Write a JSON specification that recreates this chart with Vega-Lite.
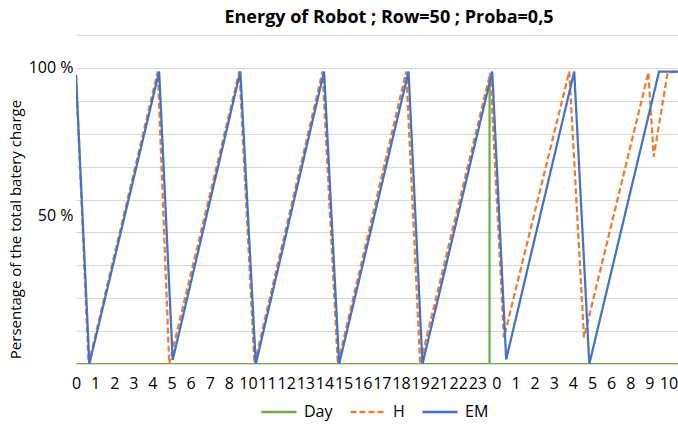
{
  "$schema": "https://vega.github.io/schema/vega-lite/v6.json",
  "autosize": {"type": "none"},
  "width": 602,
  "height": 329,
  "padding": {"left": 76, "top": 35, "right": 0, "bottom": 63},
  "background": "white",
  "config": {"view": {"stroke": null}, "font": "Open Sans"},
  "title": {"text": "Energy of Robot ; Row=50 ; Proba=0,5", "font": "Open Sans", "fontSize": 18, "fontWeight": "bold", "color": "#000000", "anchor": "middle", "dx": 12, "offset": 0},
  "data": {"values": [
    {"s": "Day", "i": 0, "x": 0, "y": 0},
    {"s": "Day", "i": 1, "x": 21.64, "y": 0},
    {"s": "Day", "i": 2, "x": 21.64, "y": 86},
    {"s": "Day", "i": 3, "x": 21.64, "y": 0},
    {"s": "Day", "i": 4, "x": 31.5, "y": 0},
    {"s": "H", "i": 0, "x": 0, "y": 87.8},
    {"s": "H", "i": 1, "x": 0.66, "y": 0},
    {"s": "H", "i": 2, "x": 4.28, "y": 88.9},
    {"s": "H", "i": 3, "x": 4.88, "y": 0},
    {"s": "H", "i": 4, "x": 8.55, "y": 88.9},
    {"s": "H", "i": 5, "x": 9.34, "y": 0},
    {"s": "H", "i": 6, "x": 12.9, "y": 88.9},
    {"s": "H", "i": 7, "x": 13.7, "y": 0},
    {"s": "H", "i": 8, "x": 17.28, "y": 88.9},
    {"s": "H", "i": 9, "x": 18.01, "y": 0},
    {"s": "H", "i": 10, "x": 21.68, "y": 88.5},
    {"s": "H", "i": 11, "x": 22.39, "y": 8.0},
    {"s": "H", "i": 12, "x": 25.81, "y": 88.9},
    {"s": "H", "i": 13, "x": 26.58, "y": 8.1},
    {"s": "H", "i": 14, "x": 29.95, "y": 88.6},
    {"s": "H", "i": 15, "x": 30.23, "y": 63},
    {"s": "H", "i": 16, "x": 30.96, "y": 88.6},
    {"s": "H", "i": 17, "x": 31.5, "y": 88.9},
    {"s": "EM", "i": 0, "x": 0, "y": 87.8},
    {"s": "EM", "i": 1, "x": 0.7, "y": 0},
    {"s": "EM", "i": 2, "x": 4.35, "y": 88.9},
    {"s": "EM", "i": 3, "x": 5.06, "y": 1.2},
    {"s": "EM", "i": 4, "x": 8.6, "y": 88.9},
    {"s": "EM", "i": 5, "x": 9.41, "y": 0},
    {"s": "EM", "i": 6, "x": 12.98, "y": 88.9},
    {"s": "EM", "i": 7, "x": 13.77, "y": 0},
    {"s": "EM", "i": 8, "x": 17.4, "y": 88.9},
    {"s": "EM", "i": 9, "x": 18.13, "y": 0},
    {"s": "EM", "i": 10, "x": 21.78, "y": 88.9},
    {"s": "EM", "i": 11, "x": 22.51, "y": 1.4},
    {"s": "EM", "i": 12, "x": 26.07, "y": 88.9},
    {"s": "EM", "i": 13, "x": 26.86, "y": 0},
    {"s": "EM", "i": 14, "x": 30.51, "y": 88.9},
    {"s": "EM", "i": 15, "x": 31.5, "y": 88.9}
  ]},
  "mark": {"type": "line", "strokeWidth": 2.25, "clip": true},
  "encoding": {
    "x": {"field": "x", "type": "quantitative",
      "scale": {"domain": [0, 31.5], "nice": false, "zero": false},
      "axis": {"title": null, "grid": false, "domain": false, "ticks": false,
        "values": [0,1,2,3,4,5,6,7,8,9,10,11,12,13,14,15,16,17,18,19,20,21,22,23,24,25,26,27,28,29,30,31],
        "labelExpr": "['0','1','2','3','4','5','6','7','8','10','11','12','13','14','15','16','17','18','19','21','22','23','0','1','2','3','4','5','6','8','9','10'][datum.value]",
        "labelOverlap": false, "labelFlush": false, "labelBound": false,
        "labelFont": "Open Sans", "labelFontSize": 16, "labelColor": "#000000", "labelPadding": 11}},
    "y": {"field": "y", "type": "quantitative",
      "scale": {"domain": [0, 100], "nice": false},
      "axis": {"title": "Persentage of the total batery charge", "titleFont": "Open Sans", "titleFontSize": 15, "titleFontWeight": "normal", "titleColor": "#000000",
        "titleX": -61, "titleY": 194, "titleBaseline": "middle", "titleAngle": -90,
        "values": [0,10,20,30,40,45,50,60,70,80,90,100],
        "labelExpr": "datum.value == 90 ? '100 %' : datum.value == 45 ? '50 %' : ''",
        "labelOverlap": false, "labelFont": "Open Sans", "labelFontSize": 16, "labelColor": "#000000", "labelPadding": 3,
        "domain": false, "ticks": false,
        "grid": true, "gridColor": "#D9D9D9", "gridWidth": 1,
        "gridOpacity": {"condition": {"test": "datum.value == 45", "value": 0}, "value": 1}}},
    "color": {"field": "s", "type": "nominal",
      "scale": {"domain": ["Day", "H", "EM"], "range": ["#70AD47", "#ED7D31", "#4472C4"]},
      "legend": {"title": null, "orient": "none", "direction": "horizontal", "legendX": 184, "legendY": 358,
        "symbolType": "stroke", "symbolSize": 1225, "symbolStrokeWidth": 2.5,
        "labelFont": "Open Sans", "labelFontSize": 16, "labelColor": "#000000", "labelOffset": 6, "columnPadding": 12}},
    "strokeDash": {"field": "s", "type": "nominal",
      "scale": {"domain": ["Day", "H", "EM"], "range": [[1, 0], [6, 3], [1, 0]]},
      "legend": {"title": null, "orient": "none", "direction": "horizontal", "legendX": 184, "legendY": 358,
        "symbolType": "stroke", "symbolSize": 1225, "symbolStrokeWidth": 2.5,
        "labelFont": "Open Sans", "labelFontSize": 16, "labelColor": "#000000", "labelOffset": 6, "columnPadding": 12}},
    "order": {"field": "i", "type": "quantitative"}
  }
}
